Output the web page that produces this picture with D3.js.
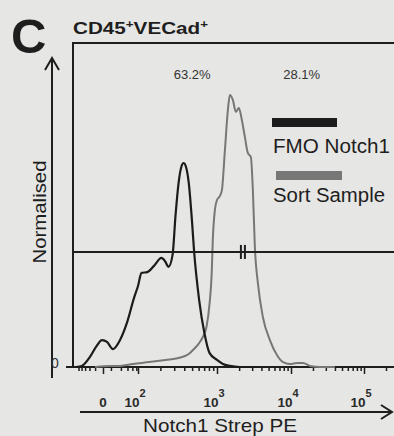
<!DOCTYPE html>
<html><head><meta charset="utf-8">
<script src="https://cdn.jsdelivr.net/npm/d3@7/dist/d3.min.js"></script>
<style>
html,body{margin:0;padding:0;background:#e6e6e4;}
svg{display:block;font-family:"Liberation Sans",Arial,sans-serif;}
</style></head>
<body><svg id="c" width="394" height="436"></svg>
<script>
// ---- data ----
const fmoX = [-60,-39,-19,-8.6,-1,4.5,13.4,27.8,48,78,100,112,134,164,207,233,254,286,312,340,371,393,417,455,497,527,609,705,815,1000,1205,1498,2046,3000];
const fmoY = [0,0.4,3.7,7.4,9.9,9.2,6.6,9.9,16.2,25.4,29.8,34.6,34.9,37.1,40.1,38.6,36.8,41.2,55.9,67.6,73.9,75,73.9,67.6,54,43,24.6,12.5,5.1,2.6,1.1,0.4,0,0];
const sortX = [-10,8.6,27.8,73,142,233,340,455,527,609,684,747,815,864,890,943,1000,1098,1168,1283,1408,1498,1645,1806,1983,2177,2390,2624,2881,3066,3263,3582,4184,5202,6468,7797,9694,12085,14600,18210,24960,40000];
const sortY = [0,0.4,0.4,1.1,1.8,2.6,3.3,4.8,6.6,8.8,11.4,14.7,23.5,34.6,46.7,57.7,61.4,62.9,65.1,79.8,94.5,100,98.2,93.8,95.2,90.8,84.6,78.7,77.2,65.1,44.1,30.9,18.4,9.9,4.4,1.8,1.1,1.5,1.5,0.4,0,0];
const majorTicks = [0,100,1000,10000,100000];
const majorLabels = [["0",""],["10","2"],["10","3"],["10","4"],["10","5"]];
const minorTicks = [-50,-40,-30,-20,-10,10,30,50,70,90,
  200,300,400,500,600,700,800,900,
  2000,3000,4000,5000,6000,7000,8000,9000,
  20000,30000,40000,50000,60000,70000,80000,90000,200000];
const gateX = 2250, gateY = 42.3;
const pctLabels = ["63.2%","28.1%"];
const pctX = [500, 14000];
const seriesNames = ["FMO Notch1","Sort Sample"];
const seriesColors = ["#1c1c1c","#777777"];

// ---- scales ----
const svg = d3.select("#c");
const x = d3.scaleSymlog().constant(20)
  .domain([0,100,1000,10000,100000]).range([103,138,217,291,364]);
const y = d3.scaleLinear().domain([0,100]).range([367,95]);
const ink = "#1e1e1e";

// panel letter and title
svg.append("text").attr("x",11).attr("y",53).attr("font-size",49).attr("font-weight","bold")
  .attr("fill",ink).text("C");
const t = svg.append("text").attr("x",73).attr("y",34).attr("font-size",17).attr("font-weight","bold").attr("fill",ink)
  .attr("textLength",135).attr("lengthAdjust","spacingAndGlyphs");
t.append("tspan").text("CD45");
t.append("tspan").attr("font-size",11).attr("dy",-6).text("+");
t.append("tspan").attr("dy",6).text("VECad");
t.append("tspan").attr("font-size",11).attr("dy",-6).text("+");

// frame
svg.append("line").attr("x1",73).attr("x2",73).attr("y1",42).attr("y2",367).attr("stroke",ink).attr("stroke-width",2);
svg.append("line").attr("x1",72).attr("x2",394).attr("y1",43).attr("y2",43).attr("stroke",ink).attr("stroke-width",2);

// x axis ticks
const axMinor = d3.axisBottom(x).tickValues(minorTicks).tickSize(4).tickFormat("");
const axMajor = d3.axisBottom(x).tickValues(majorTicks).tickSize(7).tickFormat("");
const gm = svg.append("g").attr("transform","translate(0,367)").call(axMinor);
gm.select(".domain").remove();
const gM = svg.append("g").attr("transform","translate(0,367)").call(axMajor);
gM.select(".domain").remove();
svg.selectAll(".tick line").attr("stroke",ink).attr("stroke-width",1.5);
svg.append("line").attr("x1",66).attr("x2",394).attr("y1",367).attr("y2",367).attr("stroke",ink).attr("stroke-width",2);

// tick labels
majorTicks.forEach((v,i)=>{
  const tx = svg.append("text").attr("x",x(v)-(i?3:0)).attr("y",407).attr("text-anchor","middle")
    .attr("font-size",13.5).attr("font-weight","bold").attr("fill","#2a2a2a");
  tx.append("tspan").text(majorLabels[i][0]);
  if(majorLabels[i][1]) tx.append("tspan").attr("font-size",11).attr("dy",-10).text(majorLabels[i][1]);
});

// x-axis arrow and label
svg.append("line").attr("x1",80).attr("x2",392).attr("y1",412).attr("y2",412).attr("stroke",ink).attr("stroke-width",2);
svg.append("path").attr("d","M381,405 L392,412 L381,419").attr("fill","none").attr("stroke",ink).attr("stroke-width",2);
svg.append("text").attr("x",220).attr("y",432).attr("text-anchor","middle").attr("font-size",19).attr("fill",ink)
  .attr("textLength",154).attr("lengthAdjust","spacingAndGlyphs").text("Notch1 Strep PE");

// y arrow and label
svg.append("line").attr("x1",52).attr("x2",52).attr("y1",58).attr("y2",378).attr("stroke",ink).attr("stroke-width",2);
svg.append("path").attr("d","M45,70 L52,58 L59,70").attr("fill","none").attr("stroke",ink).attr("stroke-width",2);
svg.append("text").attr("transform","translate(46,212) rotate(-90)").attr("text-anchor","middle").attr("font-size",19).attr("fill",ink)
  .attr("textLength",103).attr("lengthAdjust","spacingAndGlyphs").text("Normalised");
svg.append("text").attr("x",55).attr("y",368).attr("text-anchor","middle").attr("font-size",14).attr("fill","#333").text("0");

// curves
const line = d3.line().x(d=>x(d[0])).y(d=>y(d[1])).curve(d3.curveMonotoneX);
svg.append("path").datum(sortX.map((v,i)=>[v,sortY[i]])).attr("d",line)
  .attr("fill","none").attr("stroke",seriesColors[1]).attr("stroke-width",2);
svg.append("path").datum(fmoX.map((v,i)=>[v,fmoY[i]])).attr("d",line)
  .attr("fill","none").attr("stroke",seriesColors[0]).attr("stroke-width",2.2);

// gate
svg.append("line").attr("x1",73).attr("x2",394).attr("y1",y(gateY)).attr("y2",y(gateY)).attr("stroke",ink).attr("stroke-width",2);
[-2,2].forEach(o=>svg.append("line").attr("x1",x(gateX)+o).attr("x2",x(gateX)+o)
  .attr("y1",y(gateY)-7).attr("y2",y(gateY)+7).attr("stroke",ink).attr("stroke-width",2));

// percent labels
pctLabels.forEach((p,i)=>svg.append("text").attr("x",x(pctX[i])).attr("y",79).attr("text-anchor","middle")
  .attr("font-size",13).attr("fill","#333").text(p));

// legend
const lg = [[272,118,65,153,117],[276,171,66,202,112]];
lg.forEach((L,i)=>{
  svg.append("rect").attr("x",L[0]).attr("y",L[1]).attr("width",L[2]).attr("height",9).attr("fill",seriesColors[i]);
  svg.append("text").attr("x",273).attr("y",L[3]).attr("font-size",19.5).attr("fill",ink)
    .attr("textLength",L[4]).attr("lengthAdjust","spacingAndGlyphs").text(seriesNames[i]);
});
</script></body></html>
